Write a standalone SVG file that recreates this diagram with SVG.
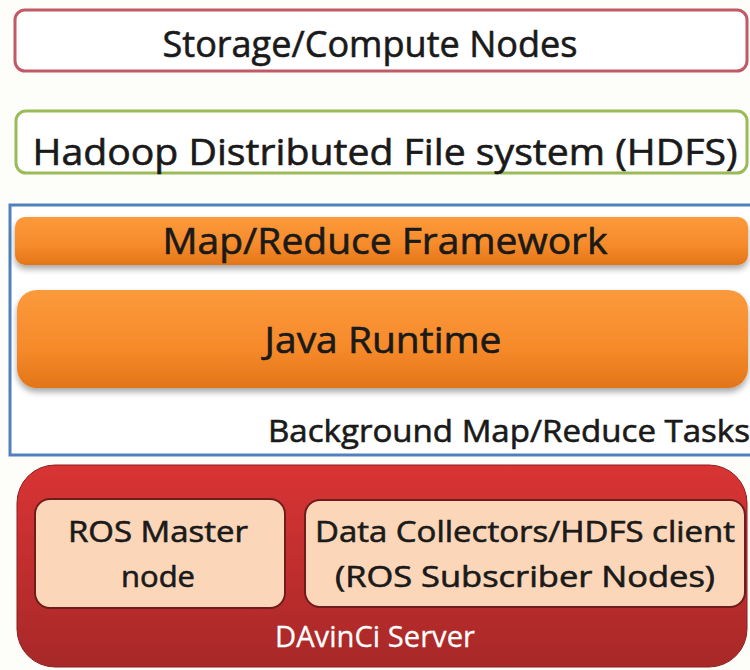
<svg xmlns="http://www.w3.org/2000/svg" width="750" height="670" viewBox="0 0 750 670">
<defs>
<linearGradient id="gOrange" x1="0" y1="0" x2="0" y2="1">
<stop offset="0" stop-color="#fb9a3c"/>
<stop offset="0.6" stop-color="#f68a2a"/>
<stop offset="1" stop-color="#e27518"/>
</linearGradient>
<linearGradient id="gRed" x1="0" y1="0" x2="0" y2="1">
<stop offset="0" stop-color="#d93434"/>
<stop offset="1" stop-color="#a82828"/>
</linearGradient>
<filter id="shadow" x="-5%" y="-20%" width="110%" height="150%">
<feGaussianBlur in="SourceAlpha" stdDeviation="3"/>
<feOffset dx="0" dy="4" result="b"/>
<feComponentTransfer><feFuncA type="linear" slope="0.35"/></feComponentTransfer>
<feMerge><feMergeNode/><feMergeNode in="SourceGraphic"/></feMerge>
</filter>
</defs>
<style>
text { font-family: "Open Sans", "Liberation Sans", sans-serif; text-anchor: middle; fill: #1a1a1a; stroke: #1a1a1a; stroke-width: 0.6; }
.big { font-size: 37px; }
.mid { font-size: 31px; }
.small { font-size: 29px; }
.white { fill: #ffffff; stroke: #ffffff; stroke-width: 0.3; }
.inner { fill: #fbd6b8; stroke: #6e1c1c; stroke-width: 2; }
</style>
<rect width="750" height="670" fill="#fdfdfa"/>

<g id="storage">
<rect x="15" y="10" width="732" height="61" rx="10" fill="#ffffff" stroke="#c25a66" stroke-width="3"/>
<text class="big" x="370" y="57" textLength="415" lengthAdjust="spacingAndGlyphs">Storage/Compute Nodes</text>
</g>

<g id="hdfs">
<rect x="16" y="111" width="731" height="62" rx="10" fill="#ffffff" stroke="#9bbb59" stroke-width="3"/>
<text class="big" x="385" y="165" textLength="705" lengthAdjust="spacingAndGlyphs">Hadoop Distributed File system (HDFS)</text>
</g>

<g id="background-tasks">
<rect x="10" y="205" width="745" height="250" fill="#ffffff" stroke="#4f81bd" stroke-width="3"/>
<text class="mid" x="509" y="442" textLength="482" lengthAdjust="spacingAndGlyphs">Background Map/Reduce Tasks</text>
</g>

<g id="mapreduce">
<rect x="15" y="217" width="733" height="48" rx="10" fill="url(#gOrange)" filter="url(#shadow)"/>
<text class="big" x="385" y="254" textLength="445" lengthAdjust="spacingAndGlyphs">Map/Reduce Framework</text>
</g>

<g id="java">
<rect x="17" y="290" width="731" height="98" rx="20" fill="url(#gOrange)" filter="url(#shadow)"/>
<text class="big" x="383" y="353" textLength="237" lengthAdjust="spacingAndGlyphs">Java Runtime</text>
</g>

<g id="davinci">
<rect x="17" y="465" width="730" height="202" rx="38" fill="url(#gRed)" stroke="#8e1f1f" stroke-width="1"/>
<text class="small white" x="375" y="647" textLength="200" lengthAdjust="spacingAndGlyphs">DAvinCi Server</text>
</g>

<g id="ros-master">
<rect class="inner" x="35" y="499" width="250" height="109" rx="15"/>
<text class="small" x="158" y="542" textLength="180" lengthAdjust="spacingAndGlyphs">ROS Master</text>
<text class="small" x="158" y="587" textLength="74" lengthAdjust="spacingAndGlyphs">node</text>
</g>

<g id="data-collectors">
<rect class="inner" x="305" y="500" width="440" height="107" rx="15"/>
<text class="small" x="525" y="542" textLength="420" lengthAdjust="spacingAndGlyphs">Data Collectors/HDFS client</text>
<text class="small" x="525" y="587" textLength="380" lengthAdjust="spacingAndGlyphs">(ROS Subscriber Nodes)</text>
</g>

<g id="connectors"></g>
</svg>
